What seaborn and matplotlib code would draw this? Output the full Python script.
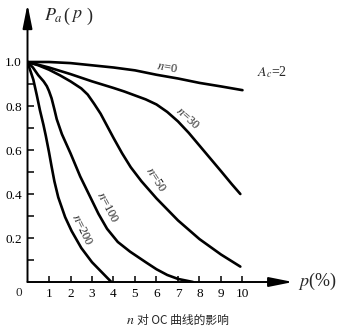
import matplotlib
matplotlib.use("Agg")
import matplotlib.pyplot as plt
import seaborn as sns
import pandas as pd
from matplotlib.ticker import FixedLocator

# ---- data (p in %, Pa = acceptance probability), Ac = 2 ----
p_n0 = [0, 1, 2, 3, 4, 5, 6, 7, 8, 9, 10]
pa_n0 = [1.0, 1.0, 0.995, 0.985, 0.975, 0.962, 0.942, 0.925, 0.905, 0.889, 0.872]

p_n30 = [0, 1, 2, 3, 4, 4.5, 5, 5.5, 6, 6.5, 7, 7.5, 8, 8.5, 9, 9.5, 9.9]
pa_n30 = [1.0, 0.975, 0.945, 0.912, 0.882, 0.866, 0.848, 0.83, 0.807, 0.773, 0.73, 0.678, 0.62, 0.562, 0.504, 0.445, 0.40]

p_n50 = [0, 0.5, 1, 1.5, 2, 2.5, 2.8, 3.1, 3.4, 3.7, 4.0, 4.4, 4.8, 5.3, 6, 7, 8, 9, 9.9]
pa_n50 = [1.0, 0.985, 0.965, 0.94, 0.912, 0.88, 0.852, 0.81, 0.765, 0.71, 0.655, 0.585, 0.522, 0.458, 0.38, 0.28, 0.195, 0.125, 0.07]

p_n100 = [0, 0.25, 0.5, 0.75, 0.9, 1.0, 1.12, 1.25, 1.36, 1.6, 2.0, 2.45, 2.9, 3.3, 3.7, 4.2, 4.77, 5.5, 6.0, 6.5, 7.0, 7.7]
pa_n100 = [1.0, 0.975, 0.94, 0.912, 0.89, 0.868, 0.835, 0.785, 0.74, 0.672, 0.585, 0.48, 0.39, 0.31, 0.242, 0.182, 0.138, 0.09, 0.058, 0.032, 0.014, 0.0]

p_n200 = [0, 0.1, 0.27, 0.43, 0.58, 0.74, 0.85, 1.0, 1.12, 1.25, 1.43, 1.75, 2.05, 2.5, 3.0, 3.5, 3.9]
pa_n200 = [1.0, 0.97, 0.92, 0.85, 0.78, 0.715, 0.665, 0.59, 0.525, 0.458, 0.385, 0.295, 0.232, 0.155, 0.09, 0.04, 0.0]

x_ticks = [1, 2, 3, 4, 5, 6, 7, 8, 9, 10]
y_ticks = [0.2, 0.4, 0.6, 0.8, 1.0]
y_tick_labels = ["0.2", "0.4", "0.6", "0.8", "1.0"]
y_minor_ticks = [0.1, 0.3, 0.5, 0.7, 0.9]

curves = [(0, p_n0, pa_n0), (30, p_n30, pa_n30), (50, p_n50, pa_n50),
          (100, p_n100, pa_n100), (200, p_n200, pa_n200)]
rows = []
for n, ps, pas in curves:
    for p, pa in zip(ps, pas):
        rows.append({"n": n, "p": p, "Pa": pa})
df = pd.DataFrame(rows)

sns.set_style("white")
plt.rcParams["font.family"] = ["Liberation Serif", "Noto Sans CJK SC"]
plt.rcParams["mathtext.fontset"] = "stix"

fig = plt.figure(figsize=(3.43, 3.27), dpi=100)
ax = fig.add_axes([0.0802, 0.1376, 0.774, 0.841])

sns.lineplot(data=df, x="p", y="Pa", hue="n", palette={n: "black" for n, _, _ in curves},
             estimator=None, legend=False, lw=1.9, ax=ax)

ax.set_xlim(0, 12.35)
ax.set_ylim(0, 1.25)
ax.set_xlabel("")
ax.set_ylabel("")
for s in ax.spines.values():
    s.set_visible(False)

# axes drawn as arrows
arrow_style = "-|>,head_length=0.9,head_width=0.18"
ax.annotate("", xy=(1, 0), xytext=(0, 0), xycoords="axes fraction",
            arrowprops=dict(arrowstyle=arrow_style, color="black",
                            lw=1.4, mutation_scale=16, shrinkA=0, shrinkB=0))
ax.annotate("", xy=(0, 1.01), xytext=(0, 0), xycoords="axes fraction",
            arrowprops=dict(arrowstyle=arrow_style, color="black",
                            lw=1.4, mutation_scale=16, shrinkA=0, shrinkB=0))

ax.xaxis.set_major_locator(FixedLocator(x_ticks))
ax.set_xticklabels([str(t) for t in x_ticks])
ax.yaxis.set_major_locator(FixedLocator(y_ticks))
ax.set_yticklabels(y_tick_labels)
ax.yaxis.set_minor_locator(FixedLocator(y_minor_ticks))
ax.tick_params(axis="both", which="both", direction="in", length=4, width=1.1,
               colors="black", labelsize=9.5, pad=4)
ax.tick_params(axis="y", which="both", left=True)
ax.tick_params(axis="x", which="both", bottom=True)

ax.text(-0.4, -0.05, "0", fontsize=9.5, ha="center", va="center", clip_on=False)

# axis labels
fig.text(298 / 343, 1 - 281 / 327, "$p$(%)", fontsize=13, ha="left", va="center")
ty = 1 - 16 / 327
fig.text(44 / 343, ty, "$P_a$", fontsize=13, ha="left", va="center")
fig.text(63 / 343, ty, "(", fontsize=13, ha="left", va="center")
fig.text(71 / 343, ty, "$p$", fontsize=13, ha="left", va="center")
fig.text(86 / 343, ty, ")", fontsize=13, ha="left", va="center")

# curve labels
ax.text(6.5, 0.975, "$n$=0", fontsize=9, rotation=-10, ha="center", va="center")
ax.text(11.4, 0.955, "$A_c$=2", fontsize=10, ha="center", va="center")
ax.text(7.45, 0.745, "$n$=30", fontsize=9, rotation=-42, ha="center", va="center")
ax.text(5.95, 0.465, "$n$=50", fontsize=9, rotation=-57, ha="center", va="center")
ax.text(3.7, 0.34, "$n$=100", fontsize=9, rotation=-62, ha="center", va="center")
ax.text(2.55, 0.235, "$n$=200", fontsize=9, rotation=-64, ha="center", va="center")

# caption
cy = 1 - 320 / 327
fig.text(126 / 343, cy, "$n$", fontsize=10, ha="left", va="center")
fig.text(137 / 343, cy, "对 OC 曲线的影响", fontsize=8.5, ha="left", va="center",
         family="Noto Sans CJK SC")

fig.savefig("out.png", dpi=100)
